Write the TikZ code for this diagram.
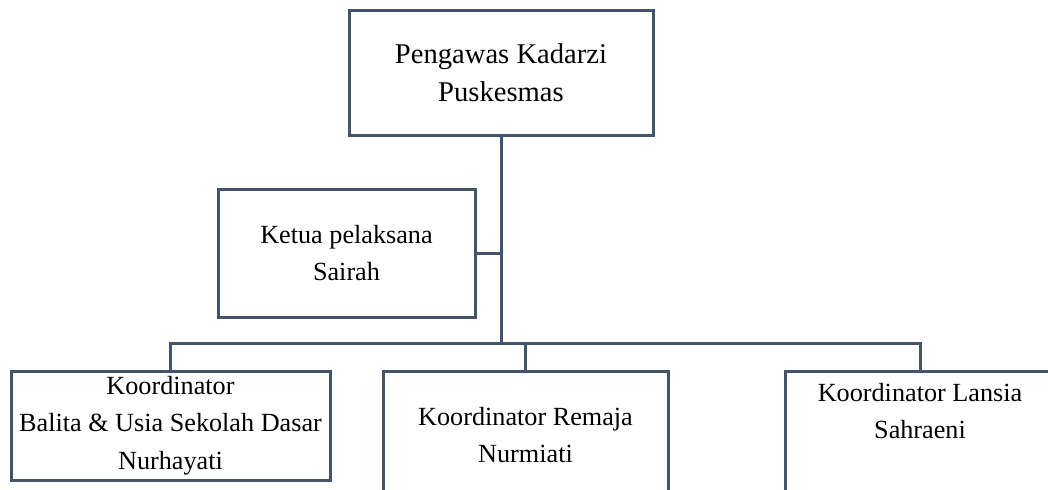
\documentclass[tikz,border=0pt]{standalone}
\usepackage{fontspec}
\setmainfont{Liberation Serif}
\usetikzlibrary{positioning}
\definecolor{linecol}{HTML}{44546A}

\begin{document}
\begin{tikzpicture}[x=0.5pt, y=-0.5pt,
    main/.style = {draw=linecol, line width=1.5pt, rectangle, align=center, inner sep=0pt, font=\fontsize{13.1}{18.8}\selectfont},
    link/.style = {draw=linecol, line width=1.5pt}]
    \clip (0,0) rectangle (1048,489);
    % Nodes
    \node[main, minimum width=152pt, minimum height=62.5pt, font=\fontsize{14.3}{19}\selectfont] (1) at (501, 72.5) {Pengawas Kadarzi\\Puskesmas};
    \node[main, minimum width=128.5pt, minimum height=64pt] (2) at (346.5, 253) {Ketua pelaksana\\Sairah};
    \node[main, minimum width=159.5pt, minimum height=54.5pt] (3) at (170.5, 425.5) {Koordinator\\Balita \& Usia Sekolah Dasar\\Nurhayati};
    \node[main, minimum width=142.5pt, minimum height=64pt] (4) at (525.5, 435) {Koordinator Remaja\\Nurmiati};
    \node[main, minimum width=135pt, minimum height=64pt] (5) at (920, 435) {};
    \node[below=6.5pt of 5.north, align=center, inner sep=0pt, font=\fontsize{13.1}{18.8}\selectfont] (6) {Koordinator Lansia\\Sahraeni};
    \coordinate (j) at (501, 343);

    % Edges
    \draw[link] (1.south) -- (j);
    \draw[link] (2.east) -- (2.east -| j);
    \draw[link] (3.north) -- (3.north |- j) -- (j -| 5.north) -- (5.north);
    \draw[link] (4.north) -- (4.north |- j);
\end{tikzpicture}
\end{document}
